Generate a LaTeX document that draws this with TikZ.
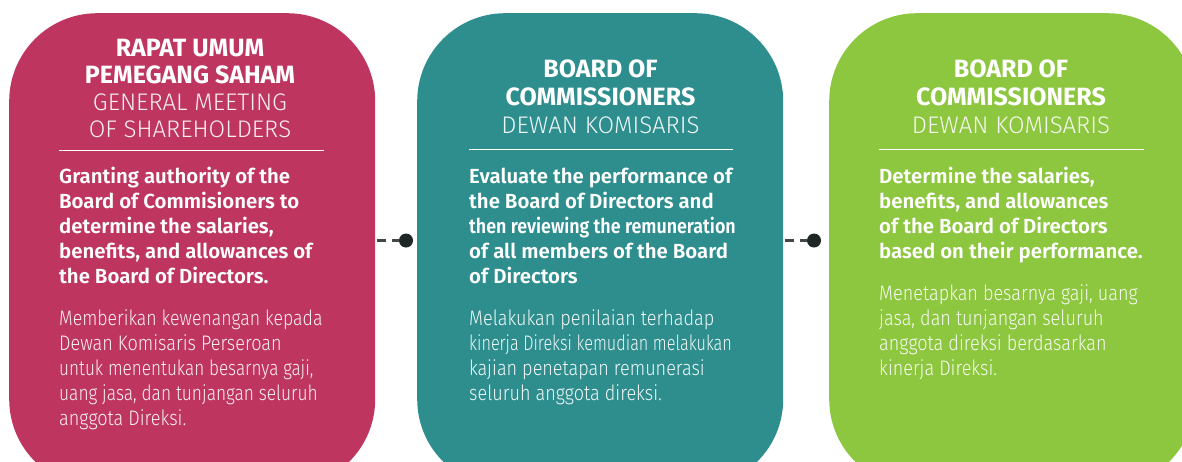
\documentclass[tikz,border=0pt]{standalone}
\usepackage{fontspec}
\setmainfont{Fira Sans}
\newfontfamily\boldf{Fira Sans SemiBold}
\newfontfamily\titlef{Fira Sans Bold}
\newfontfamily\lightf{Fira Sans Light}
\newfontfamily\condf{Fira Sans Light}[FakeStretch=0.86]
\definecolor{mag}{HTML}{BE3560}
\definecolor{teal2}{HTML}{2E8E8E}
\definecolor{grn}{HTML}{8DC63F}
\definecolor{dotc}{HTML}{1F2626}
\tikzset{
  panel/.style={fill=#1, draw=none, rounded corners=88pt, minimum width=366pt, minimum height=474pt, anchor=north west, inner sep=0},
  txt/.style={inner sep=0, text=white},
  ltxt/.style={inner sep=0, text=white!93!#1},
  dotnode/.style={circle, fill=dotc, inner sep=0, minimum size=14pt},
  conn/.style={draw=dotc!85!white, line width=2.5pt, dash pattern=on 9pt off 6pt},
  rule/.style={draw=white, line width=1pt}
}
\newcommand{\tbold}[1]{\parbox[t]{330pt}{\raggedright\fontsize{20.4}{25}\selectfont\boldf #1}}
\newcommand{\tlight}[1]{\parbox[t]{330pt}{\raggedright\fontsize{21}{25}\selectfont\condf #1}}
\newcommand{\sq}[2]{\scalebox{#1}[1]{#2}}
\begin{document}
\begin{tikzpicture}[x=1pt,y=-1pt]
\useasboundingbox (0,0) rectangle (1182,461);
\clip (0,0) rectangle (1182,461);
% panels
\node[panel=mag] (p1) at (9,13) {};
\node[panel=teal2] (p2) at (417,13) {};
\node[panel=grn] (p3) at (829,13) {};
% titles
\node[txt, anchor=base] (t1) at (190,56) {\parbox[t]{320pt}{\centering\fontsize{24}{27.2}\selectfont{\fontsize{25}{27.2}\selectfont\titlef RAPAT UMUM\\PEMEGANG SAHAM}\\{\lightf\color{white!92!mag}GENERAL MEETING\\OF SHAREHOLDERS}}};
\node[txt, anchor=base] (t2) at (600.5,77) {\parbox[t]{320pt}{\centering\fontsize{24}{28}\selectfont{\fontsize{25}{28}\selectfont\titlef BOARD OF\\COMMISSIONERS}\\{\lightf\color{white!92!teal2}DEWAN KOMISARIS}}};
\node[txt, anchor=base] (t3) at (1011,77) {\parbox[t]{320pt}{\centering\fontsize{24}{28}\selectfont{\fontsize{25}{28}\selectfont\titlef BOARD OF\\COMMISSIONERS}\\{\lightf\color{white!92!grn}DEWAN KOMISARIS}}};
% rules
\draw[rule] (59,150.5) -- (324,150.5);
\draw[rule] (469,149.5) -- (733,149.5);
\draw[rule] (879,149) -- (1144,149);
% bold texts
\node[txt, anchor=base west] (b1) at (59,183) {\tbold{Granting authority of the\\Board of Commisioners to\\determine the salaries,\\benefits, and allowances of\\the Board of Directors.}};
\node[txt, anchor=base west] (b2) at (469,183) {\tbold{Evaluate the performance of\\the Board of Directors and\\\sq{0.875}{then reviewing the remuneration}\\of all members of the Board\\of Directors}};
\node[txt, anchor=base west] (b3) at (879,183) {\tbold{Determine the salaries,\\benefits, and allowances\\of the Board of Directors\\based on their performance.}};
% light texts
\node[ltxt=mag, anchor=base west] (l1) at (59,325) {\tlight{\sq{0.98}{Memberikan kewenangan kepada}\\Dewan Komisaris Perseroan\\\sq{0.95}{untuk menentukan besarnya gaji,}\\\sq{0.96}{uang jasa, dan tunjangan seluruh}\\anggota Direksi.}};
\node[ltxt=teal2, anchor=base west] (l2) at (469,325) {\tlight{Melakukan penilaian terhadap\\\sq{0.90}{kinerja Direksi kemudian melakukan}\\kajian penetapan remunerasi\\seluruh anggota direksi.}};
\node[ltxt=grn, anchor=base west] (l3) at (879,300) {\tlight{Menetapkan besarnya gaji, uang\\jasa, dan tunjangan seluruh\\anggota direksi berdasarkan\\kinerja Direksi.}};
% connectors
\node[dotnode] (d1) at (406,240.5) {};
\node[dotnode] (d2) at (814,240.5) {};
\draw[conn] ([xshift=2pt]p1.east |- d1) -- (d1);
\draw[conn] ([xshift=2pt]p2.east |- d2) -- (d2);
\end{tikzpicture}
\end{document}
